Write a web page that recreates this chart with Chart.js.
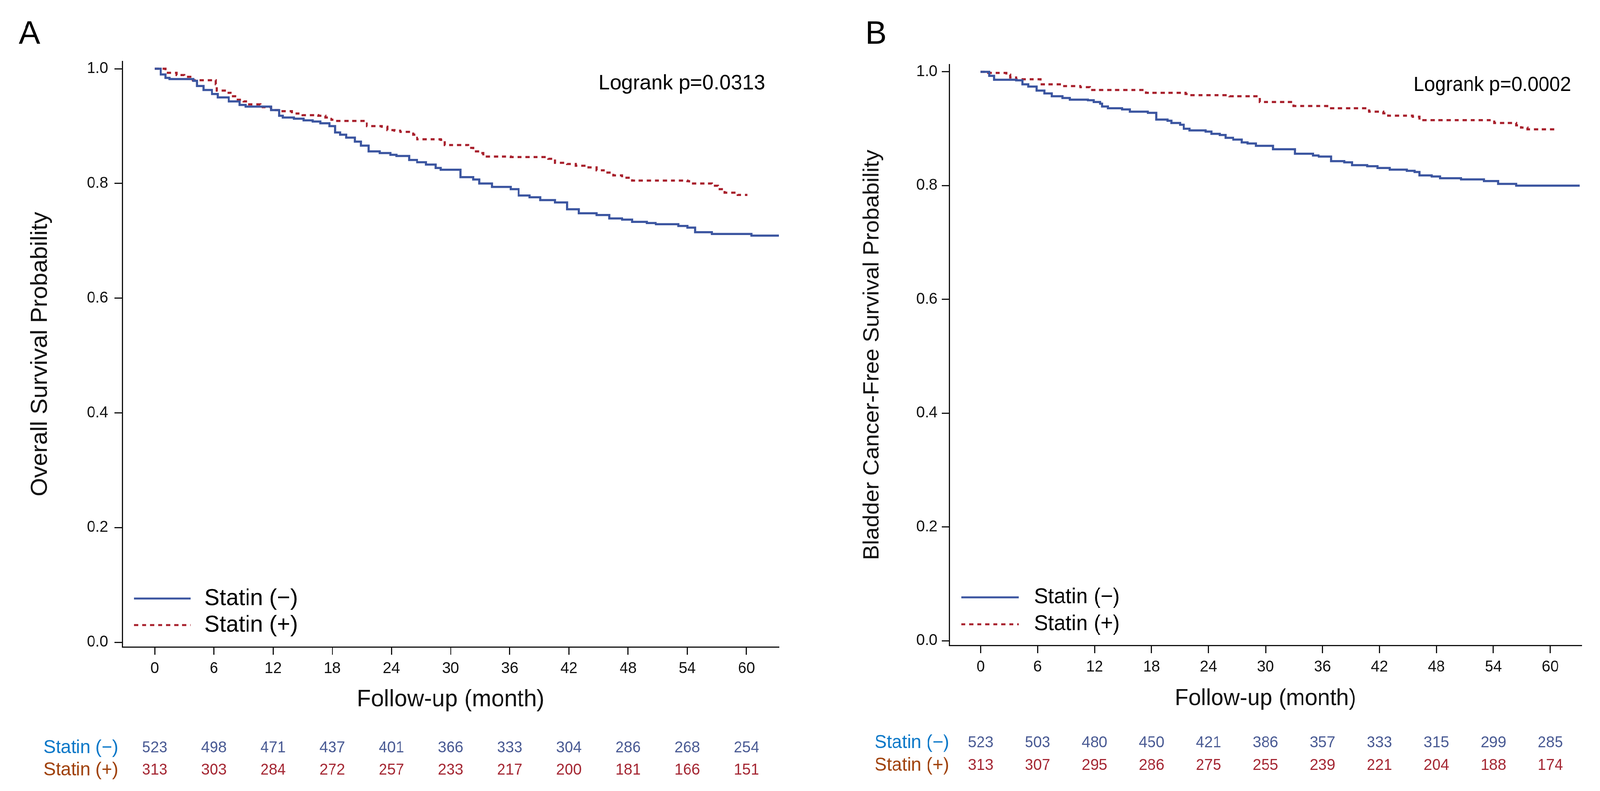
<!DOCTYPE html>
<html>
<head>
<meta charset="utf-8">
<script src="https://cdn.jsdelivr.net/npm/chart.js@4.4.1/dist/chart.umd.min.js"></script>
<style>
  html, body { margin: 0; padding: 0; background: #fff; overflow: hidden; }
  #wrap { position: relative; width: 4190px; height: 2026px; transform-origin: 0 0; }
  canvas { position: absolute; top: 0; }
</style>
</head>
<body>
<div id="wrap">
  <canvas id="panelA" width="2095" height="2026" style="left:0"></canvas>
  <canvas id="panelB" width="2095" height="2026" style="left:2095px"></canvas>
</div>
<script>
// Ejes
const monthTicks = [0, 6, 12, 18, 24, 30, 36, 42, 48, 54, 60];
const survTicks = [0, 0.2, 0.4, 0.6, 0.8, 1.0];

// Panel A: supervivencia global (tiempo del escalón, valor tras el escalón)
const osNegTime = [0, 0.6, 1.1, 1.5, 3.9, 4.3, 4.95, 5.8, 6.4, 7.5, 8.6, 9.2, 11.8, 12.6, 13.0, 14.1, 15.1, 16.0, 16.8, 17.7, 18.3, 18.8, 19.4, 20.3, 20.9, 21.7, 22.8, 23.9, 24.5, 25.8, 26.6, 27.5, 28.5, 29.0, 31.0, 32.3, 32.9, 34.2, 36.1, 36.9, 38.0, 39.1, 40.6, 41.8, 43.0, 44.8, 46.1, 47.4, 48.4, 49.9, 50.8, 53.1, 54.0, 54.8, 56.5, 60.5, 63.3];
const osNegSurv = [1.0, 0.99, 0.984, 0.982, 0.979, 0.970, 0.963, 0.956, 0.950, 0.943, 0.937, 0.934, 0.928, 0.918, 0.915, 0.913, 0.910, 0.908, 0.905, 0.900, 0.889, 0.885, 0.880, 0.873, 0.866, 0.856, 0.853, 0.850, 0.848, 0.841, 0.837, 0.833, 0.827, 0.824, 0.811, 0.807, 0.800, 0.794, 0.790, 0.779, 0.776, 0.771, 0.767, 0.755, 0.748, 0.745, 0.739, 0.737, 0.733, 0.731, 0.729, 0.726, 0.723, 0.715, 0.712, 0.709, 0.709];
const osPosTime = [0, 1.1, 2.2, 3.0, 3.6, 6.2, 6.3, 7.1, 7.7, 8.3, 9.0, 9.4, 10.7, 11.8, 12.6, 13.9, 15.0, 16.6, 17.3, 17.9, 18.3, 21.5, 23.0, 23.6, 24.3, 24.9, 26.2, 26.6, 29.0, 29.4, 31.8, 32.3, 33.1, 33.3, 36.1, 39.9, 40.6, 41.8, 42.7, 44.0, 44.8, 45.7, 46.5, 47.4, 48.4, 54.0, 54.2, 56.5, 57.1, 57.8, 59.1, 60.1];
const osPosSurv = [1.0, 0.993, 0.989, 0.986, 0.980, 0.973, 0.962, 0.958, 0.952, 0.946, 0.943, 0.938, 0.933, 0.928, 0.926, 0.922, 0.919, 0.918, 0.915, 0.911, 0.909, 0.900, 0.899, 0.893, 0.892, 0.890, 0.885, 0.877, 0.876, 0.867, 0.862, 0.856, 0.853, 0.847, 0.846, 0.843, 0.836, 0.834, 0.831, 0.828, 0.823, 0.819, 0.814, 0.810, 0.805, 0.804, 0.800, 0.796, 0.790, 0.784, 0.780, 0.780];
const osRiskNeg = [523, 498, 471, 437, 401, 366, 333, 304, 286, 268, 254];
const osRiskPos = [313, 303, 284, 272, 257, 233, 217, 200, 181, 166, 151];

// Panel B: supervivencia libre de cáncer de vejiga
const bcNegTime = [0, 0.9, 1.4, 3.75, 4.4, 5.0, 5.9, 6.7, 7.5, 8.6, 9.4, 11.3, 11.9, 12.6, 12.8, 13.4, 14.9, 15.7, 17.6, 18.5, 19.7, 20.1, 21.0, 21.4, 22.0, 23.7, 24.3, 25.2, 25.8, 26.6, 27.5, 28.1, 29.0, 30.8, 33.1, 35.0, 35.6, 36.9, 38.3, 39.1, 40.7, 41.8, 43.1, 44.9, 45.7, 46.2, 47.5, 48.4, 50.6, 53.0, 54.5, 56.4, 63.1];
const bcNegSurv = [1.0, 0.993, 0.986, 0.985, 0.978, 0.974, 0.967, 0.962, 0.957, 0.954, 0.951, 0.950, 0.947, 0.944, 0.939, 0.936, 0.934, 0.930, 0.928, 0.916, 0.914, 0.910, 0.907, 0.900, 0.897, 0.895, 0.891, 0.889, 0.884, 0.881, 0.876, 0.874, 0.870, 0.864, 0.856, 0.853, 0.851, 0.843, 0.841, 0.836, 0.834, 0.831, 0.828, 0.826, 0.824, 0.818, 0.816, 0.813, 0.811, 0.808, 0.803, 0.800, 0.800];
const bcPosTime = [0, 0.8, 2.7, 3.1, 3.75, 6.3, 8.6, 10.5, 11.5, 17.4, 21.6, 22.0, 26.2, 29.2, 29.4, 32.95, 36.5, 40.5, 40.9, 42.4, 42.9, 45.5, 46.2, 54.1, 56.4, 56.9, 57.6, 60.5];
const bcPosSurv = [1.0, 0.998, 0.995, 0.990, 0.987, 0.978, 0.975, 0.973, 0.968, 0.963, 0.961, 0.959, 0.957, 0.955, 0.947, 0.940, 0.936, 0.932, 0.930, 0.927, 0.923, 0.921, 0.915, 0.910, 0.906, 0.902, 0.899, 0.899];
const bcRiskNeg = [523, 503, 480, 450, 421, 386, 357, 333, 315, 299, 285];
const bcRiskPos = [313, 307, 295, 286, 275, 255, 239, 221, 204, 188, 174];

const BLUE = '#3b55a0';
const RED = '#a8202c';
const FONT = "'Liberation Sans', Arial, sans-serif";

Chart.defaults.font.family = FONT;
Chart.defaults.color = '#111';

// Ajusta la figura de 4190x2026 a la ventana real
const wrap = document.getElementById('wrap');
const sx = (window.innerWidth || 4190) / 4190;
const sy = (window.innerHeight || 2026) / 2026;
if (Math.abs(sx - 1) > 0.002 || Math.abs(sy - 1) > 0.002) {
  wrap.style.transform = `scale(${sx}, ${sy})`;
}

const toPoints = (t, s) => t.map((v, i) => ({ x: v, y: s[i] }));

// Leyenda, texto logrank, letra del panel y tabla de pacientes en riesgo
const kmExtras = {
  id: 'kmExtras',
  afterDraw(chart, args, o) {
    const { ctx, chartArea: ca, scales: { x } } = chart;
    ctx.save();
    ctx.fillStyle = '#000';
    ctx.textAlign = 'left';
    ctx.textBaseline = 'alphabetic';
    ctx.font = `84px ${FONT}`;
    ctx.fillText(o.letter, o.letterX, 112);

    ctx.font = `${o.lrSize}px ${FONT}`;
    ctx.textAlign = 'right';
    ctx.fillText(o.logrank, ca.right + o.lrDx, ca.top + o.lrDy);

    chart.data.datasets.forEach((ds, i) => {
      const yy = ca.bottom - o.legRows[i];
      ctx.strokeStyle = ds.borderColor;
      ctx.lineWidth = 5;
      ctx.setLineDash(ds.borderDash || []);
      ctx.beginPath();
      ctx.moveTo(ca.left + o.legX0, yy);
      ctx.lineTo(ca.left + o.legX1, yy);
      ctx.stroke();
      ctx.setLineDash([]);
      ctx.fillStyle = '#000';
      ctx.textAlign = 'left';
      ctx.textBaseline = 'middle';
      ctx.font = `${o.legSize}px ${FONT}`;
      ctx.fillText(ds.label, ca.left + o.legText, yy);
    });

    const rows = [
      { label: 'Statin (−)', labelColor: '#0b78c8', color: '#4a5b94', vals: o.riskNeg, y: o.riskY[0] },
      { label: 'Statin (+)', labelColor: '#a0420c', color: '#a52834', vals: o.riskPos, y: o.riskY[1] }
    ];
    ctx.textBaseline = 'middle';
    rows.forEach(r => {
      ctx.font = `48px ${FONT}`;
      ctx.textAlign = 'right';
      ctx.fillStyle = r.labelColor;
      ctx.fillText(r.label, ca.left + o.riskLabelDx, r.y);
      ctx.font = `40px ${FONT}`;
      ctx.textAlign = 'center';
      ctx.fillStyle = r.color;
      r.vals.forEach((v, i) => ctx.fillText(String(v), x.getPixelForValue(monthTicks[i]), r.y));
    });
    ctx.restore();
  }
};

function makeChart(id, cfg) {
  return new Chart(document.getElementById(id), {
    type: 'line',
    data: {
      datasets: [
        { label: 'Statin (−)', data: toPoints(cfg.negT, cfg.negS), borderColor: BLUE, borderWidth: 5.5, stepped: true, pointRadius: 0, fill: false },
        { label: 'Statin (+)', data: toPoints(cfg.posT, cfg.posS), borderColor: RED, borderWidth: 5.5, borderDash: [11, 10], stepped: true, pointRadius: 0, fill: false }
      ]
    },
    options: {
      responsive: false,
      animation: false,
      devicePixelRatio: 1,
      layout: { padding: { left: 0, top: cfg.top, right: cfg.right, bottom: cfg.bottom } },
      plugins: {
        legend: { display: false },
        tooltip: { enabled: false },
        kmExtras: cfg.extras
      },
      scales: {
        x: {
          type: 'linear',
          min: -3.3,
          max: 63.3,
          afterBuildTicks: s => { s.ticks = monthTicks.map(v => ({ value: v })); },
          afterFit: s => { s.height = 180; },
          grid: { drawOnChartArea: false, drawTicks: true, tickLength: 20, tickWidth: 3, tickColor: '#111' },
          border: { display: true, color: '#111', width: 3 },
          ticks: { font: { size: 40 }, color: '#111', padding: 12, maxRotation: 0, autoSkip: false },
          title: { display: true, text: 'Follow-up (month)', font: { size: cfg.xTitleSize }, color: '#111', padding: { top: 0, bottom: 8 } }
        },
        y: {
          min: -0.008,
          max: 1.013,
          afterBuildTicks: s => { s.ticks = survTicks.map(v => ({ value: v })); },
          afterFit: s => { s.width = cfg.left; },
          grid: { drawOnChartArea: false, drawTicks: true, tickLength: 20, tickWidth: 3, tickColor: '#111' },
          border: { display: true, color: '#111', width: 3 },
          ticks: { font: { size: 40 }, color: '#111', padding: cfg.yPad, callback: v => Number(v).toFixed(1) },
          title: { display: true, text: cfg.yTitle, font: { size: cfg.yTitleSize }, color: '#111', padding: { top: cfg.yTitlePad, bottom: 0 } }
        }
      }
    },
    plugins: [kmExtras]
  });
}

makeChart('panelA', {
  negT: osNegTime, negS: osNegSurv, posT: osPosTime, posS: osPosSurv,
  left: 320, top: 157, right: 55, bottom: 189, yPad: 17, yTitlePad: 70,
  yTitle: 'Overall Survival Probability', yTitleSize: 61, xTitleSize: 61,
  extras: {
    letter: 'A', letterX: 49, logrank: 'Logrank p=0.0313', lrSize: 54, lrDx: -36, lrDy: 72,
    legRows: [124, 56], legX0: 31, legX1: 179, legText: 215, legSize: 60,
    riskNeg: osRiskNeg, riskPos: osRiskPos, riskY: [1916, 1973], riskLabelDx: -10
  }
});

makeChart('panelB', {
  negT: bcNegTime, negS: bcNegSurv, posT: bcPosTime, posS: bcPosSurv,
  left: 391, top: 165, right: 48, bottom: 193, yPad: 11, yTitlePad: 155,
  yTitle: 'Bladder Cancer-Free Survival Probability', yTitleSize: 58, xTitleSize: 59,
  extras: {
    letter: 'B', letterX: 171, logrank: 'Logrank p=0.0002', lrSize: 51, lrDx: -28, lrDy: 68,
    legRows: [123, 54], legX0: 31, legX1: 182, legText: 222, legSize: 55,
    riskNeg: bcRiskNeg, riskPos: bcRiskPos, riskY: [1903, 1961], riskLabelDx: 0
  }
});
</script>
</body>
</html>
